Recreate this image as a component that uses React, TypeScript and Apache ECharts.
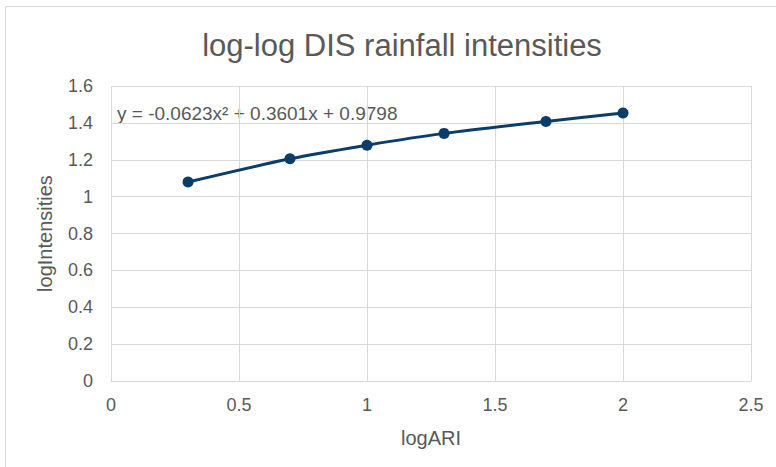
import React, { useEffect, useRef } from "react";
import * as echarts from "echarts";

const title = "log-log DIS rainfall intensities";
const xName = "logARI";
const yName = "logIntensities";
const equation = "y = -0.0623x² + 0.3601x + 0.9798";
const logARI = [0.301, 0.699, 1.0, 1.301, 1.699, 2.0];
const logIntensities = [1.079, 1.205, 1.279, 1.343, 1.408, 1.453];

export default function App() {
  const ref = useRef<HTMLDivElement>(null);
  useEffect(() => {
    if (!ref.current) return;
    const chart = echarts.init(ref.current, null, { renderer: "svg" });
    const txt = "#595959";
    const font = "'Liberation Sans', Arial, sans-serif";
    chart.setOption({
      animation: false,
      backgroundColor: "#ffffff",
      textStyle: { fontFamily: font },
      title: {
        text: title,
        left: 397,
        top: 25,
        textAlign: "center",
        textStyle: { fontSize: 31, fontWeight: "normal", color: txt, fontFamily: font },
      },
      graphic: [
        {
          type: "rect",
          shape: { x: 5.5, y: 6.5, width: 800, height: 500 },
          style: { fill: "none", stroke: "#d9d9d9", lineWidth: 1 },
          silent: true,
        },
        {
          type: "text",
          left: 117,
          top: 104,
          style: { text: equation, fontSize: 19, fill: txt, fontFamily: font },
        },
      ],
      grid: { left: 111, top: 86, width: 640, height: 295 },
      xAxis: {
        type: "value",
        min: 0,
        max: 2.5,
        interval: 0.5,
        name: xName,
        nameLocation: "middle",
        nameGap: 47,
        nameTextStyle: { fontSize: 20, color: txt, fontFamily: font },
        axisLine: { show: true, lineStyle: { color: "#d9d9d9", width: 1 } },
        axisTick: { show: false },
        axisLabel: { fontSize: 18, color: txt, margin: 15, fontFamily: font },
        splitLine: { show: true, lineStyle: { color: "#d9d9d9", width: 1 } },
      },
      yAxis: {
        type: "value",
        min: 0,
        max: 1.6,
        interval: 0.2,
        name: yName,
        nameLocation: "middle",
        nameGap: 56,
        nameTextStyle: { fontSize: 20, color: txt, fontFamily: font },
        axisLine: { show: false },
        axisTick: { show: false },
        axisLabel: { fontSize: 18, color: txt, margin: 18, fontFamily: font },
        splitLine: { show: true, lineStyle: { color: "#d9d9d9", width: 1 } },
      },
      series: [
        {
          type: "line",
          data: logARI.map((x, i) => [x, logIntensities[i]]),
          smooth: 0.3,
          symbol: "circle",
          symbolSize: 11,
          lineStyle: { color: "#0b3d6b", width: 3 },
          itemStyle: { color: "#0b3d6b" },
        },
      ],
    });
    return () => chart.dispose();
  }, []);
  return (
    <div
      ref={ref}
      style={{ position: "fixed", left: 0, top: 0, width: 776, height: 467 }}
    />
  );
}
